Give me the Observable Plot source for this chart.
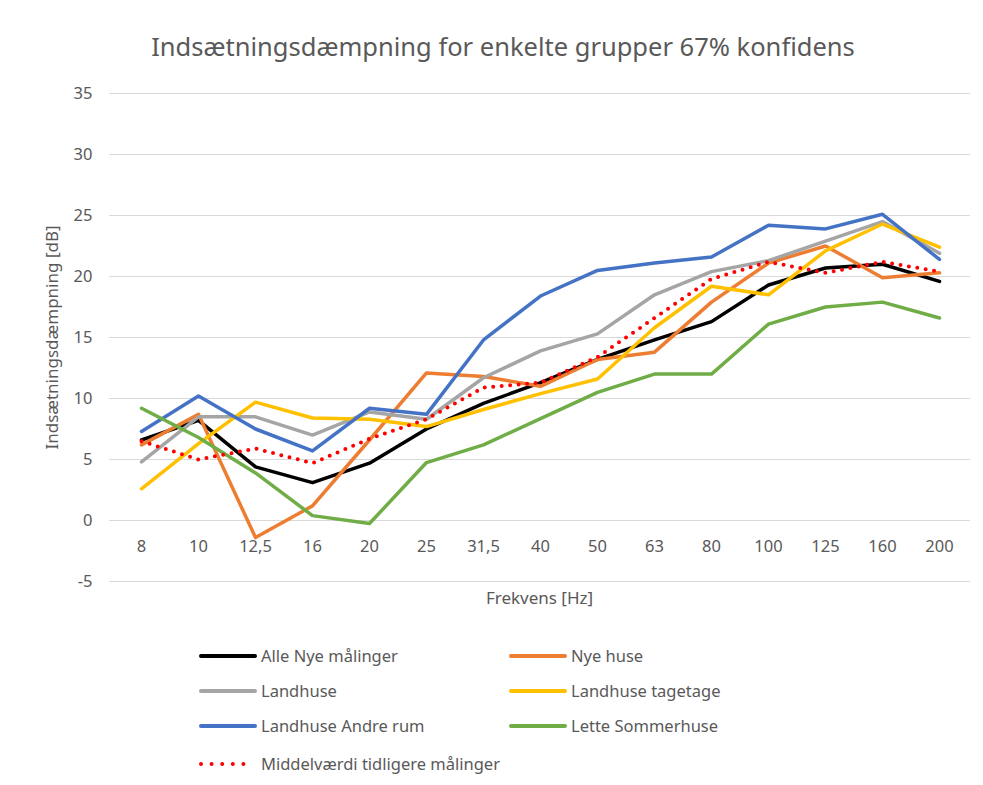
<!DOCTYPE html>
<html>
<head>
<meta charset="utf-8">
<script src="https://cdn.jsdelivr.net/npm/d3@7"></script>
<script src="https://cdn.jsdelivr.net/npm/@observablehq/plot@0.6"></script>
<style>
  body { margin: 0; background: #fff; font-family: "Noto Sans", "Open Sans", sans-serif; }
  #wrap { position: relative; width: 983px; height: 785px; overflow: hidden; }
  #title { position: absolute; top: 29px; left: 0; width: 1006px; text-align: center; font-size: 25.5px; color: #595959; }
  #chart { position: absolute; top: 80px; left: 0; }
  #xlabel { position: absolute; top: 586px; left: 109px; width: 861px; text-align: center; font-size: 17px; color: #595959; }
  #legend { position: absolute; top: 0; left: 0; }
  .item { position: absolute; display: flex; align-items: center; font-size: 16.5px; color: #595959; white-space: nowrap; }
  .item svg { margin-right: 3px; }
</style>
</head>
<body>
<div id="wrap">
  <div id="title">Indsætningsdæmpning for enkelte grupper 67% konfidens</div>
  <div id="chart"></div>
  <div id="xlabel">Frekvens [Hz]</div>
  <div id="legend"></div>
</div>
<script>
const frequencies = ["8","10","12,5","16","20","25","31,5","40","50","63","80","100","125","160","200"];
const seriesNames = ["Alle Nye målinger","Nye huse","Landhuse","Landhuse tagetage","Landhuse Andre rum","Lette Sommerhuse","Middelværdi tidligere målinger"];
const alleNye     = [6.6, 8.2, 4.4, 3.1, 4.7, 7.5, 9.6, 11.3, 13.2, 14.8, 16.3, 19.3, 20.7, 21.0, 19.6];
const nyeHuse     = [6.2, 8.7, -1.4, 1.2, 6.6, 12.1, 11.8, 11.0, 13.2, 13.8, 17.9, 21.1, 22.5, 19.9, 20.3];
const landhuse    = [4.8, 8.5, 8.5, 7.0, 8.9, 8.3, 11.7, 13.9, 15.3, 18.5, 20.4, 21.3, 22.9, 24.5, 21.9];
const tagetage    = [2.6, 6.3, 9.7, 8.4, 8.3, 7.7, 9.1, 10.4, 11.6, 15.8, 19.2, 18.5, 22.1, 24.3, 22.4];
const andreRum    = [7.3, 10.2, 7.5, 5.7, 9.2, 8.7, 14.8, 18.4, 20.5, 21.1, 21.6, 24.2, 23.9, 25.1, 21.4];
const sommerhuse  = [9.2, 6.8, 3.9, 0.4, -0.25, 4.75, 6.2, 8.35, 10.5, 12.0, 12.0, 16.1, 17.5, 17.9, 16.6];
const middel      = [6.5, 5.0, 5.9, 4.7, 6.7, 8.3, 10.9, 11.3, 13.4, 16.6, 19.8, 21.2, 20.3, 21.2, 20.4];
const yTicks = [-5, 0, 5, 10, 15, 20, 25, 30, 35];

const seriesValues = [alleNye, nyeHuse, landhuse, tagetage, andreRum, sommerhuse, middel];
const colors = ["#000000", "#ED7D31", "#A5A5A5", "#FFC000", "#4472C4", "#70AD47", "#FF0000"];

const rows = [];
seriesNames.forEach((name, i) => {
  frequencies.forEach((f, j) => rows.push({series: name, freq: f, value: seriesValues[i][j]}));
});

const solid = seriesNames.slice(0, 6);
const dotted = seriesNames[6];

const chart = Plot.plot({
  width: 983,
  height: 535,
  marginTop: 13,
  marginBottom: 34,
  marginLeft: 109,
  marginRight: 13,
  style: { fontFamily: "'Noto Sans', sans-serif", fontSize: "16px", color: "#595959", background: "transparent" },
  x: { type: "point", domain: frequencies, padding: 0.5, label: null },
  y: { domain: [-5, 35], ticks: yTicks, label: "Indsætningsdæmpning [dB]" },
  color: { domain: seriesNames, range: colors },
  marks: [
    Plot.gridY(yTicks, { stroke: "#D9D9D9", strokeOpacity: 1, strokeWidth: 1 }),
    Plot.axisY(yTicks, { tickSize: 0, tickPadding: 17, fontSize: 16.5, tickFormat: d => String(d), label: null, fill: "#595959" }),
    Plot.axisY({ ticks: [], tickSize: 0, fontSize: 17, label: "Indsætningsdæmpning [dB]", labelAnchor: "center", labelOffset: 64, labelArrow: "none", fill: "#595959" }),
    Plot.axisX({ tickSize: 0, tickPadding: 0, dy: -41, fontSize: 16.5, label: null, fill: "#595959" }),
    Plot.line(rows.filter(d => solid.includes(d.series)), { x: "freq", y: "value", z: "series", stroke: "series", strokeWidth: 3.5, strokeLinejoin: "round", strokeLinecap: "round" }),
    Plot.line(rows.filter(d => d.series === dotted), { x: "freq", y: "value", stroke: "series", strokeWidth: 4, strokeDasharray: "0,8.5", strokeLinecap: "round" })
  ]
});
document.getElementById("chart").appendChild(chart);

// Legend
const legend = document.getElementById("legend");
const positions = [[198, 656], [508, 656], [198, 691], [508, 691], [198, 726], [508, 726], [198, 764]];
seriesNames.forEach((name, i) => {
  const div = document.createElement("div");
  div.className = "item";
  div.style.left = positions[i][0] + "px";
  div.style.top = (positions[i][1] - 12) + "px";
  const isDot = i === 6;
  div.innerHTML = `<svg width="60" height="10"><line x1="3" y1="5" x2="${isDot ? 56 : 57}" y2="5" stroke="${colors[i]}" stroke-width="4" stroke-linecap="round" ${isDot ? 'stroke-dasharray="0,10.6"' : ''}/></svg><span>${name}</span>`;
  legend.appendChild(div);
});
</script>
</body>
</html>
